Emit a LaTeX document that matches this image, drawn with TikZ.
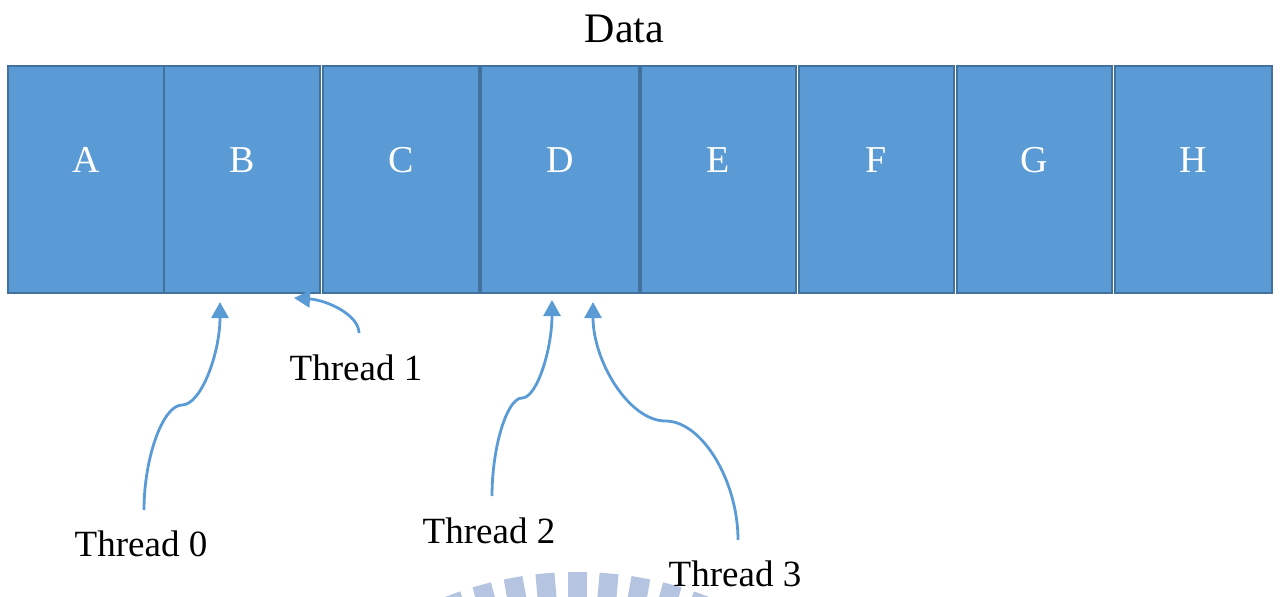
\documentclass[tikz,border=0pt]{standalone}
\usepackage{fontspec}
\setmainfont{Liberation Serif}
\usetikzlibrary{arrows.meta}
\definecolor{cellfill}{HTML}{5B9BD5}
\definecolor{celledge}{HTML}{41719C}
\definecolor{wire}{HTML}{5B9BD5}
\definecolor{seal}{HTML}{B4C4E1}
\tikzset{
  cell/.style={draw=celledge, fill=cellfill, line width=2.8pt, minimum height=227pt, inner sep=0pt},
  celltext/.style={text=white, inner sep=0pt, anchor=base, font=\fontsize{38}{44}\selectfont},
  threadtext/.style={text=black, inner sep=0pt, anchor=base, font=\fontsize{37}{44}\selectfont},
  titletext/.style={text=black, inner sep=0pt, anchor=base, font=\fontsize{42}{50}\selectfont},
  pointer/.style={draw=wire, line width=2.8pt, -{Triangle[length=16pt,width=17pt]}},
}
\begin{document}
\begin{tikzpicture}[x=1pt,y=-1pt]
\useasboundingbox (0,0) rectangle (1280,597);

% faint seal along the bottom edge
\begin{scope}
  \clip (0,0) rectangle (1280,597);
  \foreach \k in {-6,...,6} {
    \fill[seal, shift={(577,933)}, rotate={5.1*\k}] (-9.5,-361) rectangle (9.5,-300);
  }
\end{scope}

% title
\node[titletext] (title) at (624.5,42) {Data};

% data cells
\node[cell, minimum width=156pt] (A) at (86,179.5) {};
\node[cell, minimum width=156pt] (B) at (242,179.5) {};
\node[cell, minimum width=156pt] (C) at (401,179.5) {};
\node[cell, minimum width=158pt] (D) at (560,179.5) {};
\node[cell, minimum width=155pt] (E) at (718.5,179.5) {};
\node[cell, minimum width=155pt] (F) at (876.5,179.5) {};
\node[cell, minimum width=155pt] (G) at (1034.5,179.5) {};
\node[cell, minimum width=157pt] (H) at (1193.5,179.5) {};

\node[celltext] (lA) at (86,172) {A};
\node[celltext] (lB) at (242,172) {B};
\node[celltext] (lC) at (401,172) {C};
\node[celltext] (lD) at (560,172) {D};
\node[celltext] (lE) at (718.5,172) {E};
\node[celltext] (lF) at (876.5,172) {F};
\node[celltext] (lG) at (1034.5,172) {G};
\node[celltext] (lH) at (1193.5,172) {H};

% thread labels
\node[threadtext] (t0) at (141,556) {Thread 0};
\node[threadtext] (t1) at (356,380) {Thread 1};
\node[threadtext] (t2) at (489,543) {Thread 2};
\node[threadtext] (t3) at (735,586) {Thread 3};

% connector ends
\coordinate (s0) at (144,510);
\coordinate (e0) at (220,302);
\coordinate (s1) at (359,333);
\coordinate (e1) at (294,298);
\coordinate (s2) at (492,496);
\coordinate (e2) at (552,300);
\coordinate (s3) at (738,540);
\coordinate (e3) at (593,302);

% curved pointers from threads to cells
\draw[pointer] (s0) .. controls (144,457.5) and (163,405) .. (182,405)
                    .. controls (201,405) and (220,353.5) .. (e0);
\draw[pointer] (s1) .. controls (359,315) and (327,300) .. (e1);
\draw[pointer] (s2) .. controls (492,447) and (507,398) .. (522,398)
                    .. controls (537,398) and (552,349) .. (e2);
\draw[pointer] (s3) .. controls (738,480.5) and (701.75,421) .. (665.5,421)
                    .. controls (629.25,421) and (593,361.5) .. (e3);
\end{tikzpicture}
\end{document}
